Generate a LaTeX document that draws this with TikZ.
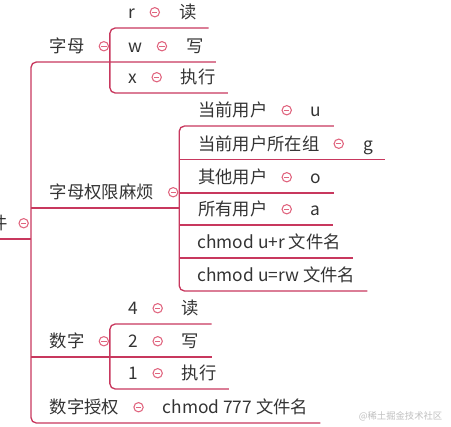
\documentclass[tikz,border=0pt]{standalone}
\usepackage{fontspec}
\setmainfont{Noto Sans CJK SC}
\usetikzlibrary{calc,positioning}
\definecolor{LinkRed}{HTML}{C8385E}
\definecolor{KnobPink}{HTML}{E0657F}
\definecolor{TextGray}{HTML}{333333}
\tikzset{
  % Base topic, its underline runs along the south side
  TP/.style={anchor=south west,inner xsep=9pt,inner ysep=0pt,
             minimum height=23.25pt,text height=11.4pt,text depth=1.6pt,
             font=\fontsize{13}{15}\selectfont,text=TextGray},
  % Topic with children (knob on the right)
  pa/.style={TP,execute at begin node={\hspace{5pt}},execute at end node={\hspace{9.75pt}}},
  % Leaf topic
  lf/.style={TP,execute at begin node={\hspace{4.5pt}}},
  % Underline and connector
  ul/.style={draw=LinkRed,line width=1pt,rounded corners=4pt},
  % Collapse knob
  knob/.style={circle,draw=KnobPink,line width=0.8pt,inner sep=0pt,minimum size=7pt,
               path picture={\draw[KnobPink,line width=0.8pt]
                 ([xshift=-2pt]path picture bounding box.center)--([xshift=2pt]path picture bounding box.center);}}
}
\begin{document}
\begin{tikzpicture}[x=0.75pt,y=-0.75pt]
  \useasboundingbox (0,0) rectangle (451,426);
  % Root
  \node[TP,anchor=south east,execute at end node={\hspace{8pt}}] (root) at (31,239) {件};
  % Level one
  \node[pa] (zimu)  at (31,62)  {字母};
  \node[pa] (zmqx)  at (31,208) {字母权限麻烦};
  \node[pa] (shuzi) at (31,357) {数字};
  \node[pa] (szsq)  at (31,423) {数字授权};
  \node[lf] (szsqC) at (szsq.south east) {chmod 777 文件名};
  % 字母
  \node[pa] (lr)  at (zimu.south east |- 0,28) {r};
  \node[lf] (lrR) at (lr.south east) {读};
  \node[pa] (lw)  at (zimu.south east) {w};
  \node[lf] (lwW) at (lw.south east) {写};
  \node[pa] (lx)  at (zimu.south east |- 0,93) {x};
  \node[lf] (lxX) at (lx.south east) {执行};
  % 字母权限麻烦
  \node[pa] (own)  at (zmqx.south east |- 0,126)   {当前用户};
  \node[lf] (ownU) at (own.south east) {u};
  \node[pa] (grp)  at (zmqx.south east |- 0,159.5) {当前用户所在组};
  \node[lf] (grpG) at (grp.south east) {g};
  \node[pa] (oth)  at (zmqx.south east |- 0,193)   {其他用户};
  \node[lf] (othO) at (oth.south east) {o};
  \node[pa] (all)  at (zmqx.south east |- 0,225)   {所有用户};
  \node[lf] (allA) at (all.south east) {a};
  \node[lf] (cmA)  at (zmqx.south east |- 0,258)   {chmod u+r 文件名};
  \node[lf] (cmB)  at (zmqx.south east |- 0,291)   {chmod u=rw 文件名};
  % 数字
  \node[pa] (n4)  at (shuzi.south east |- 0,324) {4};
  \node[lf] (n4R) at (n4.south east) {读};
  \node[pa] (n2)  at (shuzi.south east) {2};
  \node[lf] (n2W) at (n2.south east) {写};
  \node[pa] (n1)  at (shuzi.south east |- 0,389) {1};
  \node[lf] (n1X) at (n1.south east) {执行};

  % Underlines and brackets
  \draw[ul] (root.south west) -- (root.south east);
  \draw[ul] (lwW.south east) -- (zimu.south west) -- (szsq.south west) -- (szsqC.south east);
  \draw[ul] (zmqx.south west) -- (zmqx.south east);
  \draw[ul] (shuzi.south west) -- (n2W.south east);
  \draw[ul] (lrR.south east) -- (lr.south west) -- (lx.south west) -- (lxX.south east);
  \draw[ul] (ownU.south east) -- (own.south west) -- (cmB.south west) -- (cmB.south east);
  \draw[ul] (grp.south west) -- (grpG.south east);
  \draw[ul] (oth.south west) -- (othO.south east);
  \draw[ul] (all.south west) -- (allA.south east);
  \draw[ul] (cmA.south west) -- (cmA.south east);
  \draw[ul] (n4R.south east) -- (n4.south west) -- (n1.south west) -- (n1X.south east);

  % Knobs
  \foreach \n in {zimu,zmqx,shuzi,szsq,lr,lw,lx,own,grp,oth,all,n4,n2,n1}
    \node[knob] (k-\n) at ([xshift=-4.5pt]\n.east) {};
  \node[knob] (k-root) at ([xshift=-5.5pt]root.east) {};

  \node[font=\fontsize{7}{8}\selectfont,text=black!25,anchor=east] (mark) at (447,416) {@稀土掘金技术社区};
\end{tikzpicture}
\end{document}
